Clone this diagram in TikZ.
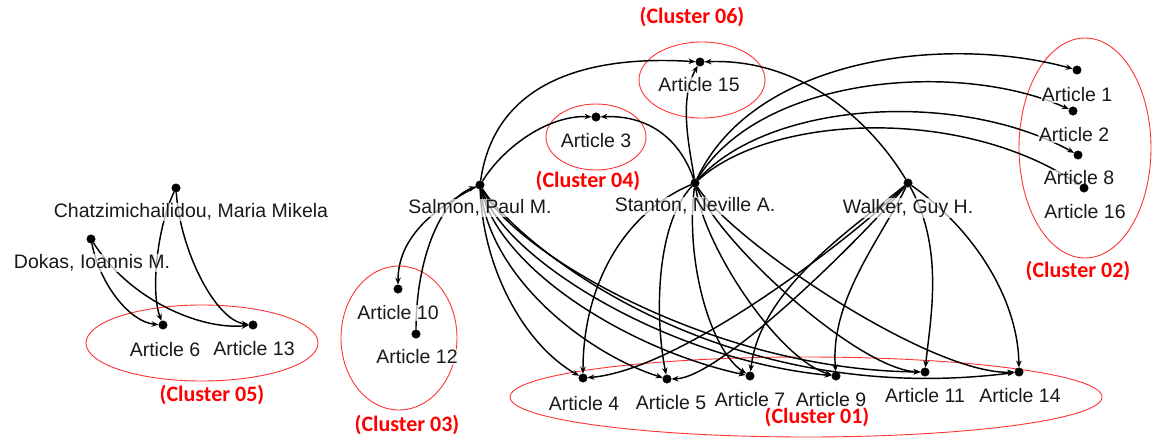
\documentclass[tikz,border=0pt]{standalone}
\usepackage{fontspec}
\setmainfont{Liberation Sans}
\newfontfamily\clusterfont{Carlito}
\usetikzlibrary{arrows.meta}
\pgfdeclarelayer{names}
\pgfdeclarelayer{points}
\pgfsetlayers{main,names,points}
\tikzset{
    doc point/.style={
        draw,
        fill,
        circle,
        minimum size=8.5pt,
        inner sep=0,
    },
    doc name/.style={
        font=\fontsize{19.5}{22}\selectfont,
        text=black!90,
        fill=white,
        fill opacity=0.7,
        text opacity=1,
        inner sep=1pt,
    },
    cluster name/.style={
        font=\clusterfont\bfseries\fontsize{22}{25}\selectfont,
        text=red,
        inner sep=0,
    },
    cluster ring/.style={
        draw=red!80,
        line width=0.9pt,
    },
    cite link/.style={
        line width=1.45pt,
        -{Stealth[length=7pt,width=5.5pt]},
    },
}

\begin{document}
\begin{tikzpicture}[x=1pt, y=-1pt]
    \useasboundingbox (0,0) rectangle (1157,439);

    % clusters
    \draw[cluster ring] (202,343) ellipse [x radius=116, y radius=38];
    \draw[cluster ring] (399,338) ellipse [x radius=58, y radius=72];
    \draw[cluster ring] (596,137) ellipse [x radius=50, y radius=33];
    \draw[cluster ring] (702,80) ellipse [x radius=63, y radius=38];
    \draw[cluster ring] (1085,148) ellipse [x radius=66, y radius=110];
    \draw[cluster ring] (806,397) ellipse [x radius=296, y radius=40];

    \node[cluster name] (c01) at (817,417) {(Cluster 01)};
    \node[cluster name] (c02) at (1078,271) {(Cluster 02)};
    \node[cluster name] (c03) at (407,425) {(Cluster 03)};
    \node[cluster name] (c04) at (588,181) {(Cluster 04)};
    \node[cluster name] (c05) at (212,395) {(Cluster 05)};
    \node[cluster name] (c06) at (692,17) {(Cluster 06)};

    % points
    \begin{pgfonlayer}{points}
    \foreach \n/\x/\y in {chatz/176/188, dokas/91/239, salmon/480/185,
        stanton/695/183, walker/908/183}
        \node[doc point] (\n) at (\x,\y) {};
    \foreach \n/\x/\y in {1/1077/70, 2/1073/111, 3/596/117, 4/583/378,
        5/667/379, 6/163/325, 7/750/376, 8/1078/155, 9/836/376,
        10/398/289, 11/925/372, 12/416/334, 13/253/325, 14/1019/372,
        15/700/62, 16/1084/188}
        \node[doc point] (a\n) at (\x,\y) {};
    \end{pgfonlayer}

    % cluster 05
    \draw[cite link] (chatz) .. controls (158,225) and (150,290) .. (a6);
    \draw[cite link] (chatz) .. controls (180,250) and (215,320) .. (a13);
    \draw[cite link] (dokas) .. controls (100,285) and (130,322) .. (a6);
    \draw[cite link] (dokas) .. controls (130,300) and (200,330) .. (a13);

    % cluster 03, 04, 06
    \draw[cite link] (salmon) .. controls (430,210) and (398,240) .. (a10);
    \draw[cite link] (a12) .. controls (416,260) and (440,200) .. (salmon);
    \draw[cite link] (salmon) .. controls (505,145) and (550,115) .. (a3);
    \draw[cite link] (stanton) .. controls (680,140) and (650,115) .. (a3);
    \draw[cite link] (salmon) .. controls (495,80) and (590,55) .. (a15);
    \draw[cite link] (walker) .. controls (870,120) and (800,58) .. (a15);
    \draw[cite link] (stanton) .. controls (690,150) and (678,100) .. (a15);

    % cluster 02
    \draw[cite link] (stanton) .. controls (755,55) and (950,35) .. (a1);
    \draw[cite link] (stanton) .. controls (760,75) and (960,60) .. (a2);
    \draw[cite link] (stanton) .. controls (770,100) and (960,90) .. (a8);
    \draw[cite link] (stanton) .. controls (770,115) and (960,105) .. (a16);

    % cluster 01
    \draw[cite link] (salmon) .. controls (483,270) and (525,345) .. (a4);
    \draw[cite link] (salmon) .. controls (490,280) and (590,355) .. (a5);
    \draw[cite link] (salmon) .. controls (500,270) and (630,350) .. (a7);
    \draw[cite link] (salmon) .. controls (505,260) and (670,360) .. (a9);
    \draw[cite link] (salmon) .. controls (512,250) and (710,370) .. (a11);
    \draw[cite link] (salmon) .. controls (518,245) and (720,410) .. (a14);

    \draw[cite link] (stanton) .. controls (620,215) and (583,290) .. (a4);
    \draw[cite link] (stanton) .. controls (655,225) and (655,320) .. (a5);
    \draw[cite link] (stanton) .. controls (685,260) and (710,350) .. (a7);
    \draw[cite link] (stanton) .. controls (705,250) and (780,360) .. (a9);
    \draw[cite link] (stanton) .. controls (720,245) and (860,370) .. (a11);
    \draw[cite link] (stanton) .. controls (730,240) and (930,375) .. (a14);

    \draw[cite link] (walker) .. controls (850,240) and (680,370) .. (a4);
    \draw[cite link] (walker) .. controls (860,240) and (720,378) .. (a5);
    \draw[cite link] (walker) .. controls (850,230) and (760,290) .. (a7);
    \draw[cite link] (walker) .. controls (880,240) and (830,300) .. (a9);
    \draw[cite link] (walker) .. controls (945,250) and (930,320) .. (a11);
    \draw[cite link] (walker) .. controls (975,230) and (1018,300) .. (a14);

    % names
    \begin{pgfonlayer}{names}
    \foreach \n/\x/\y/\t in {
        chatz/191/212/{Chatzimichailidou, Maria Mikela},
        dokas/92/263/{Dokas, Ioannis M.},
        salmon/480/208/{Salmon, Paul M.},
        stanton/695/206/{Stanton, Neville A.},
        walker/908/208/{Walker, Guy H.}}
        \node[doc name] (\n-l) at (\x,\y) {\t};
    \foreach \n/\x/\y in {1/1077/95, 2/1074/135, 3/596/141, 4/584/404,
        5/671/403, 6/165/350, 7/750/400, 8/1079/178, 9/831/400,
        10/398/313, 11/925/396, 12/417/357, 13/254/349, 14/1020/396,
        15/699/85, 16/1085/212}
        \node[doc name] (a\n-l) at (\x,\y) {Article \n};
    \end{pgfonlayer}

\end{tikzpicture}
\end{document}
